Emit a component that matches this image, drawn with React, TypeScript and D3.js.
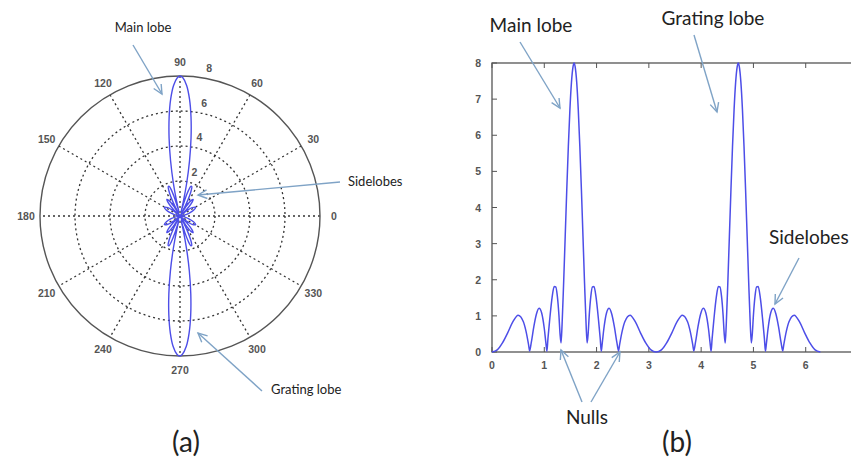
import React from 'react';
import * as d3 from 'd3';

// angle (rad) and array factor magnitude
const theta = [
  0, 0.1, 0.2, 0.3, 0.4, 0.5, 0.6, 0.65, 0.7, 0.72, 0.75, 0.8, 0.85, 0.9, 0.95, 1.0, 1.03, 1.05,
  1.07, 1.1, 1.15, 1.19, 1.22, 1.25, 1.28, 1.3, 1.32, 1.34, 1.37, 1.4, 1.43, 1.46, 1.49, 1.52, 1.55,
  1.57, 1.59, 1.62, 1.65, 1.68, 1.71, 1.74, 1.77, 1.8, 1.82, 1.84, 1.86, 1.89, 1.92, 1.95, 1.99,
  2.04, 2.07, 2.09, 2.11, 2.14, 2.19, 2.24, 2.29, 2.34, 2.39, 2.42, 2.44, 2.49, 2.54, 2.64, 2.74,
  2.84, 2.94, 3.04, 3.14,
  3.24, 3.34, 3.44, 3.54, 3.64, 3.74, 3.79, 3.84, 3.86, 3.89, 3.94, 3.99, 4.04, 4.09, 4.14, 4.17,
  4.19, 4.21, 4.24, 4.29, 4.33, 4.36, 4.39, 4.42, 4.44, 4.46, 4.48, 4.51, 4.54, 4.57, 4.6, 4.63,
  4.66, 4.69, 4.71, 4.73, 4.76, 4.79, 4.82, 4.85, 4.88, 4.91, 4.94, 4.96, 4.98, 5.0, 5.03, 5.06,
  5.09, 5.13, 5.18, 5.21, 5.23, 5.25, 5.28, 5.33, 5.38, 5.43, 5.48, 5.53, 5.56, 5.58, 5.63, 5.68,
  5.78, 5.88, 5.98, 6.08, 6.18, 6.28,
];
const af = [
  0, 0.06, 0.25, 0.53, 0.84, 1.02, 0.84, 0.58, 0.2, 0.03, 0.25, 0.7, 1.05, 1.21, 1.08, 0.65, 0.26, 0.02,
  0.37, 0.84, 1.52, 1.81, 1.8, 1.54, 1.02, 0.53, 0.25, 0.75, 1.91, 3.2, 4.49, 5.69, 6.71, 7.47, 7.9,
  8, 7.9, 7.47, 6.71, 5.69, 4.49, 3.2, 1.91, 0.75, 0.25, 0.53, 1.02, 1.54, 1.8, 1.81, 1.52,
  0.84, 0.37, 0.02, 0.26, 0.65, 1.08, 1.21, 1.05, 0.7, 0.25, 0.03, 0.2, 0.58, 0.84, 1.02, 0.84,
  0.53, 0.25, 0.06, 0,
  0.06, 0.25, 0.53, 0.84, 1.02, 0.84, 0.58, 0.2, 0.03, 0.25, 0.7, 1.05, 1.21, 1.08, 0.65, 0.26,
  0.02, 0.37, 0.84, 1.52, 1.81, 1.8, 1.54, 1.02, 0.53, 0.25, 0.75, 1.91, 3.2, 4.49, 5.69, 6.71,
  7.47, 7.9, 8, 7.9, 7.47, 6.71, 5.69, 4.49, 3.2, 1.91, 0.75, 0.25, 0.53, 1.02, 1.54, 1.8,
  1.81, 1.52, 0.84, 0.37, 0.02, 0.26, 0.65, 1.08, 1.21, 1.05, 0.7, 0.25, 0.03, 0.2, 0.58, 0.84,
  1.02, 0.84, 0.53, 0.25, 0.06, 0,
];

const angleTicks = [0, 30, 60, 90, 120, 150, 180, 210, 240, 270, 300, 330];
const ringTicks = [2, 4, 6, 8];
const xTicks = [0, 1, 2, 3, 4, 5, 6];
const yTicks = [0, 1, 2, 3, 4, 5, 6, 7, 8];

const BLUE = '#4d4ee8';
const ARROW = '#7fa3c6';
const GRID = '#333';
const LABEL_FONT = 'Lato, "Open Sans", sans-serif';
const TICK_FONT = '"Liberation Sans", Arial, sans-serif';

const points = theta.map((t, i) => ({ t, v: af[i] }));

const Arrow = ({ x1, y1, x2, y2 }) => {
  const a = Math.atan2(y2 - y1, x2 - x1);
  const len = 10;
  const spread = 0.45;
  const h1 = [x2 - len * Math.cos(a - spread), y2 - len * Math.sin(a - spread)];
  const h2 = [x2 - len * Math.cos(a + spread), y2 - len * Math.sin(a + spread)];
  return (
    <g stroke={ARROW} strokeWidth={1.4} fill="none">
      <line x1={x1} y1={y1} x2={x2} y2={y2} />
      <polyline points={`${h1[0]},${h1[1]} ${x2},${y2} ${h2[0]},${h2[1]}`} />
    </g>
  );
};

const PolarChart = () => {
  const cx = 180;
  const cy = 216;
  const R = 140;
  const r = d3.scaleLinear().domain([0, 8]).range([0, R]);

  const line = d3
    .lineRadial<{ t: number; v: number }>()
    .angle((d) => Math.PI / 2 - d.t)
    .radius((d) => r(d.v))
    .curve(d3.curveCatmullRom.alpha(0.5));

  const a82 = (82 * Math.PI) / 180;

  return (
    <g transform={`translate(${cx},${cy})`}>
      {ringTicks.slice(0, -1).map((v) => (
        <circle key={v} r={r(v)} fill="none" stroke={GRID} strokeWidth={1.3} strokeDasharray="2,3" />
      ))}
      {angleTicks.slice(0, 6).map((deg) => {
        const a = (deg * Math.PI) / 180;
        return (
          <line
            key={deg}
            x1={R * Math.cos(a)}
            y1={-R * Math.sin(a)}
            x2={-R * Math.cos(a)}
            y2={R * Math.sin(a)}
            stroke={GRID}
            strokeWidth={1.3}
            strokeDasharray="2,3"
          />
        );
      })}
      <circle r={R} fill="none" stroke="#555" strokeWidth={1.4} />
      {angleTicks.map((deg) => {
        const a = (deg * Math.PI) / 180;
        return (
          <text
            key={deg}
            x={R * 1.1 * Math.cos(a)}
            y={-R * 1.1 * Math.sin(a)}
            textAnchor="middle"
            dominantBaseline="central"
            fontFamily={TICK_FONT}
            fontSize={10.5}
            fontWeight="bold"
            fill="#555"
          >
            {deg}
          </text>
        );
      })}
      {ringTicks.map((v) => {
        const rr = r(v + 0.1);
        return (
          <text
            key={v}
            x={rr * Math.cos(a82) + 6.5}
            y={-rr * Math.sin(a82) - 3.5}
            fontFamily={TICK_FONT}
            fontSize={10.5}
            fontWeight="bold"
            fill="#555"
          >
            {v}
          </text>
        );
      })}
      <path d={line(points) || ''} fill="none" stroke={BLUE} strokeWidth={1.4} />
    </g>
  );
};

const LineChart = () => {
  const x = d3.scaleLinear().domain([0, 7]).range([492, 858]);
  const y = d3.scaleLinear().domain([0, 8]).range([352, 63]);

  const line = d3
    .line<{ t: number; v: number }>()
    .x((d) => x(d.t))
    .y((d) => y(d.v))
    .curve(d3.curveMonotoneX);

  const tick = 5;

  return (
    <g>
      <rect x={x(0)} y={y(8)} width={x(7) - x(0)} height={y(0) - y(8)} fill="#fff" stroke="#555" strokeWidth={1.3} />
      {xTicks.map((v) => (
        <g key={v}>
          <line x1={x(v)} x2={x(v)} y1={y(0)} y2={y(0) - tick} stroke="#555" />
          <line x1={x(v)} x2={x(v)} y1={y(8)} y2={y(8) + tick} stroke="#555" />
          <text
            x={x(v)}
            y={y(0) + 17}
            textAnchor="middle"
            fontFamily={TICK_FONT}
            fontSize={10.5}
            fontWeight="bold"
            fill="#555"
          >
            {v}
          </text>
        </g>
      ))}
      {yTicks.map((v) => (
        <g key={v}>
          <line x1={x(0)} x2={x(0) + tick} y1={y(v)} y2={y(v)} stroke="#555" />
          <text
            x={x(0) - 11}
            y={y(v)}
            textAnchor="end"
            dominantBaseline="central"
            fontFamily={TICK_FONT}
            fontSize={10.5}
            fontWeight="bold"
            fill="#555"
          >
            {v}
          </text>
        </g>
      ))}
      <path d={line(points) || ''} fill="none" stroke={BLUE} strokeWidth={1.5} />
    </g>
  );
};

export default function App() {
  return (
    <svg width={851} height={461} style={{ position: 'absolute', left: 0, top: 0, background: '#fff' }}>
      <rect width={851} height={461} fill="#fff" />
      <PolarChart />
      <LineChart />

      {/* annotations, left */}
      <g fontFamily={LABEL_FONT} fill="#222">
        <text x={143} y={32} textAnchor="middle" fontSize={13}>Main lobe</text>
        <text x={348} y={186} fontSize={13}>Sidelobes</text>
        <text x={271} y={394} fontSize={13}>Grating lobe</text>
        <text x={186} y={452} textAnchor="middle" fontSize={28}>(a)</text>
      </g>
      <Arrow x1={133} y1={45} x2={162} y2={94} />
      <Arrow x1={340} y1={182} x2={198} y2={195} />
      <Arrow x1={262} y1={391} x2={198} y2={333} />

      {/* annotations, right */}
      <g fontFamily={LABEL_FONT} fill="#222">
        <text x={531} y={32} textAnchor="middle" fontSize={19}>Main lobe</text>
        <text x={713} y={25} textAnchor="middle" fontSize={19}>Grating lobe</text>
        <text x={769} y={244} fontSize={19}>Sidelobes</text>
        <text x={587} y={424} textAnchor="middle" fontSize={19}>Nulls</text>
        <text x={677} y={452} textAnchor="middle" fontSize={28}>(b)</text>
      </g>
      <Arrow x1={520} y1={42} x2={560} y2={108} />
      <Arrow x1={694} y1={35} x2={717} y2={112} />
      <Arrow x1={799} y1={258} x2={775} y2={304} />
      <Arrow x1={582} y1={402} x2={561} y2={350} />
      <Arrow x1={591} y1={402} x2={620} y2={352} />
    </svg>
  );
}
